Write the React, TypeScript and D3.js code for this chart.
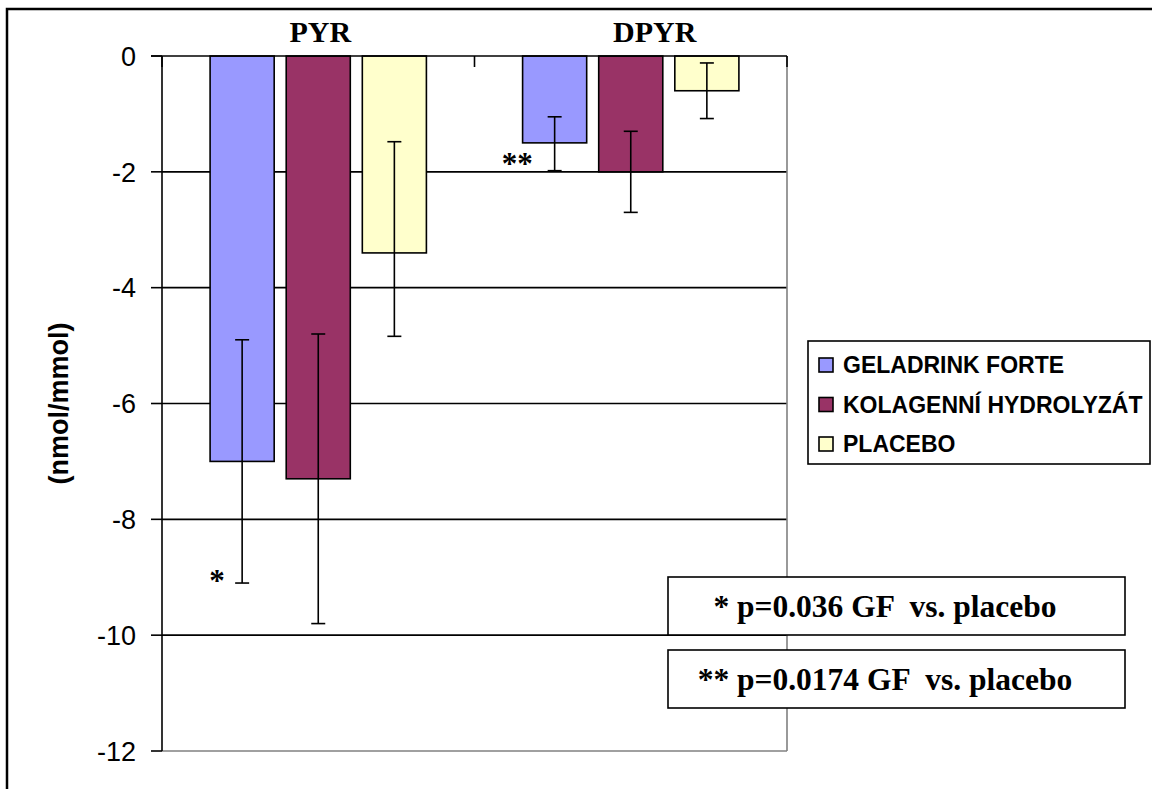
import React from 'react';
import * as d3 from 'd3';

// categories and series
const categories = ['PYR', 'DPYR'];
const seriesNames = ['GELADRINK FORTE', 'KOLAGENNÍ HYDROLYZÁT', 'PLACEBO'];
const seriesColors = ['#9999FF', '#993366', '#FFFFCC'];

// mean change (nmol/mmol)
const geladrink = [-7.0, -1.5];
const kolagen = [-7.3, -2.0];
const placebo = [-3.4, -0.6];

// error bars: towards zero / away from zero
const geladrinkErrUp = [2.1, 0.45];
const geladrinkErrDown = [2.1, 0.48];
const kolagenErrUp = [2.5, 0.7];
const kolagenErrDown = [2.5, 0.7];
const placeboErrUp = [1.92, 0.48];
const placeboErrDown = [1.44, 0.48];

const yTicks = [0, -2, -4, -6, -8, -10, -12];
const pNotes = ['* p=0.036 GF  vs. placebo', '** p=0.0174 GF  vs. placebo'];

const W = 1152;
const H = 789;
const margin = { top: 56, right: 365, bottom: 38, left: 162 };

export default function App() {
  const plotRight = W - margin.right;
  const plotBottom = H - margin.bottom;

  const series = seriesNames.map((name, i) => ({
    name,
    color: seriesColors[i],
    values: [geladrink, kolagen, placebo][i],
    up: [geladrinkErrUp, kolagenErrUp, placeboErrUp][i],
    down: [geladrinkErrDown, kolagenErrDown, placeboErrDown][i],
  }));

  const x0 = d3.scaleBand<string>().domain(categories).range([margin.left, plotRight]);
  const x1 = d3.scaleBand<string>()
    .domain(seriesNames)
    .range([0, x0.bandwidth()])
    .paddingInner(0.158)
    .paddingOuter(0.632);
  const y = d3.scaleLinear().domain([-12, 0]).range([plotBottom, margin.top]);

  const capW = 7;
  const serif = '"Liberation Serif", "Times New Roman", serif';
  const sans = '"Liberation Sans", Arial, sans-serif';

  // star markers next to significant bars
  const stars = [
    { cat: 'PYR', s: 0, text: '*', dx: -33, dy: 8 },
    { cat: 'DPYR', s: 0, text: '**', dx: -53, dy: 3 },
  ];

  return (
    <svg width={W} height={H} style={{ position: 'absolute', left: 0, top: 0, background: '#fff' }}>
      {/* outer chart frame */}
      <path d={`M7,${H} V9 H${W}`} fill="none" stroke="#000" strokeWidth={2.5} />

      {/* gridlines */}
      {yTicks.filter(t => t !== 0 && t !== -12).map(t => (
        <line key={t} x1={margin.left} x2={plotRight} y1={y(t)} y2={y(t)} stroke="#000" strokeWidth={1.6} />
      ))}
      {/* plot border right / bottom */}
      <line x1={plotRight} x2={plotRight} y1={y(0)} y2={y(-12)} stroke="#808080" strokeWidth={1.6} />
      <line x1={margin.left} x2={plotRight} y1={y(-12)} y2={y(-12)} stroke="#808080" strokeWidth={1.6} />

      {/* bars */}
      {categories.map((c, ci) => (
        <g key={c}>
          {series.map(s => {
            const bx = (x0(c) as number) + (x1(s.name) as number);
            const v = s.values[ci];
            return (
              <rect key={s.name} x={bx} y={y(0)} width={x1.bandwidth()} height={y(v) - y(0)}
                fill={s.color} stroke="#000" strokeWidth={1.6} />
            );
          })}
        </g>
      ))}

      {/* error bars */}
      {categories.map((c, ci) => (
        <g key={c}>
          {series.map(s => {
            const cx = (x0(c) as number) + (x1(s.name) as number) + x1.bandwidth() / 2;
            const v = s.values[ci];
            const yt = y(v + s.up[ci]);
            const yb = y(v - s.down[ci]);
            return (
              <g key={s.name} stroke="#000" strokeWidth={1.6}>
                <line x1={cx} x2={cx} y1={yt} y2={yb} />
                <line x1={cx - capW} x2={cx + capW} y1={yt} y2={yt} />
                <line x1={cx - capW} x2={cx + capW} y1={yb} y2={yb} />
              </g>
            );
          })}
        </g>
      ))}

      {/* axes */}
      <line x1={margin.left} x2={margin.left} y1={y(0)} y2={y(-12)} stroke="#000" strokeWidth={1.6} />
      <line x1={margin.left - 11} x2={plotRight} y1={y(0)} y2={y(0)} stroke="#000" strokeWidth={1.6} />
      {[...categories.map(c => x0(c) as number), plotRight].map((xv, i) => (
        <line key={i} x1={xv} x2={xv} y1={y(0)} y2={y(0) + 11} stroke="#000" strokeWidth={1.6} />
      ))}
      {yTicks.map(t => (
        <g key={t}>
          <line x1={margin.left - 11} x2={margin.left} y1={y(t)} y2={y(t)} stroke="#000" strokeWidth={1.6} />
          <text x={136} y={y(t)} dy="0.36em" textAnchor="end" fontFamily={sans} fontSize={27}>{t}</text>
        </g>
      ))}

      {/* y axis title */}
      <text transform={`translate(68,${(y(0) + y(-12)) / 2}) rotate(-90)`} textAnchor="middle"
        fontFamily={sans} fontWeight="bold" fontSize={27}>(nmol/mmol)</text>

      {/* category titles */}
      {categories.map((c, i) => (
        <text key={c} x={(x0(c) as number) + x0.bandwidth() / 2 + (i === 1 ? 24 : 2)} y={42}
          textAnchor="middle" fontFamily={serif} fontWeight="bold" fontSize={30}>{c}</text>
      ))}

      {/* significance stars */}
      {stars.map((st, i) => {
        const s = series[st.s];
        const ci = categories.indexOf(st.cat);
        const bx = (x0(st.cat) as number) + (x1(s.name) as number) + x1.bandwidth() / 2;
        const by = y(s.values[ci] - s.down[ci]);
        return (
          <text key={i} x={bx + st.dx} y={by + st.dy} fontFamily={serif} fontWeight="bold" fontSize={31}>{st.text}</text>
        );
      })}

      {/* legend */}
      <g>
        <rect x={808} y={341} width={342} height={123} fill="#fff" stroke="#000" strokeWidth={1.6} />
        {series.map((s, i) => (
          <g key={s.name} transform={`translate(819,${365 + i * 39.5})`}>
            <rect x={0} y={-7} width={14} height={14} fill={s.color} stroke="#000" strokeWidth={1.6} />
            <text x={24} y={0} dy="0.36em" fontFamily={sans} fontWeight="bold" fontSize={23}>{s.name}</text>
          </g>
        ))}
      </g>

      {/* p-value notes */}
      {pNotes.map((n, i) => (
        <g key={i} transform={`translate(668,${577 + i * 73})`}>
          <rect x={0} y={0} width={457} height={58} fill="#fff" stroke="#000" strokeWidth={1.6} />
          <text x={217} y={40} textAnchor="middle" fontFamily={serif} fontWeight="bold" fontSize={31.5}
            style={{ whiteSpace: 'pre' }}>{n}</text>
        </g>
      ))}
    </svg>
  );
}
